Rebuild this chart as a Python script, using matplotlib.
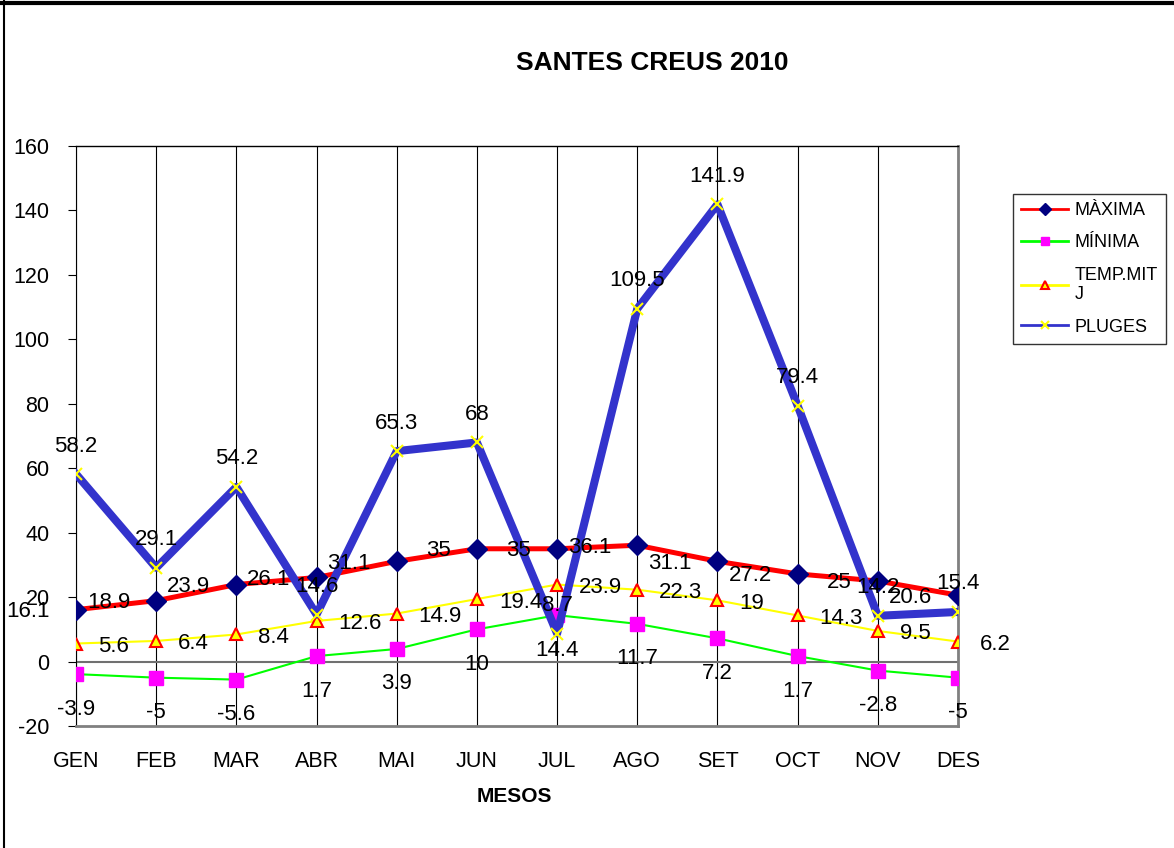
import numpy as np
import matplotlib
matplotlib.use("Agg")
import matplotlib.pyplot as plt
from matplotlib.lines import Line2D

plt.rcParams['font.family'] = ['Liberation Sans', 'DejaVu Sans']
plt.rcParams['axes.unicode_minus'] = False

mesos = ["GEN", "FEB", "MAR", "ABR", "MAI", "JUN", "JUL", "AGO", "SET", "OCT", "NOV", "DES"]
maxima = [16.1, 18.9, 23.9, 26.1, 31.1, 35, 35, 36.1, 31.1, 27.2, 25, 20.6]
minima = [-3.9, -5, -5.6, 1.7, 3.9, 10, 14.4, 11.7, 7.2, 1.7, -2.8, -5]
temp_mitj = [5.6, 6.4, 8.4, 12.6, 14.9, 19.4, 23.9, 22.3, 19, 14.3, 9.5, 6.2]
pluges = [58.2, 29.1, 54.2, 14.6, 65.3, 68, 8.7, 109.5, 141.9, 79.4, 14.2, 15.4]

x = np.arange(len(mesos))

fig = plt.figure(figsize=(11.74, 8.48), dpi=100)
ax = fig.add_axes([76/1174, 1-726/848, (958-76)/1174, (726-146)/848])

# series, drawn in the Excel order
ax.plot(x, maxima, color="#FF0000", lw=3.6, marker="D", ms=10,
        mfc="#000080", mec="#000080", label="MÀXIMA", zorder=3)
ax.plot(x, minima, color="#00FF00", lw=1.5, marker="s", ms=9.5,
        mfc="#FF00FF", mec="#FF00FF", label="MÍNIMA", zorder=3)
ax.plot(x, temp_mitj, color="#FFFF00", lw=1.5, marker="^", ms=9,
        mfc="#FFFF00", mec="#FF0000", mew=1.5, label="TEMP.MIT\nJ", zorder=3)
ax.plot(x, pluges, color="#3333CC", lw=5.8, marker="x", ms=9,
        mec="#FFFF00", mew=1.5, label="PLUGES", zorder=4)

# data labels
fs = 16
for xi, v in zip(x, maxima):
    ax.annotate(f"{v:g}", (xi, v), xytext=(-26, -2), textcoords="offset pixels",
                ha="right", va="center", fontsize=fs, zorder=6)
for xi, v in zip(x, minima):
    ax.annotate(f"{v:g}", (xi, v), xytext=(0, -35), textcoords="offset pixels",
                ha="center", va="center", fontsize=fs, zorder=6)
for xi, v in zip(x, temp_mitj):
    ax.annotate(f"{v:g}", (xi, v), xytext=(22, -3), textcoords="offset pixels",
                ha="left", va="center", fontsize=fs, zorder=6)
for xi, v in zip(x, pluges):
    ax.annotate(f"{v:g}", (xi, v), xytext=(0, 28), textcoords="offset pixels",
                ha="center", va="center", fontsize=fs, zorder=6)

ax.set_xlim(0, 11)
ax.set_ylim(-20, 160)
ax.set_yticks(np.arange(-20, 161, 20))
ax.set_xticks(x)
ax.set_xticklabels(mesos)
ax.tick_params(axis="x", length=0, pad=18, labelsize=15.5)
ax.tick_params(axis="y", length=6, direction="out", pad=13, labelsize=15.5)

# vertical gridlines and zero line
for xi in x:
    ax.axvline(xi, color="black", lw=0.8, zorder=1)
ax.axhline(0, color="#707070", lw=1.5, zorder=1)

ax.spines["left"].set_color("black")
ax.spines["top"].set_color("black")
ax.spines["top"].set_linewidth(1)
ax.spines["right"].set_color("#808080")
ax.spines["right"].set_linewidth(2)
ax.spines["bottom"].set_color("#808080")
ax.spines["bottom"].set_linewidth(2)

fig.text(652/1174, 1-63/848, "SANTES CREUS 2010", ha="center", va="center",
         fontsize=19, fontweight="bold")
fig.text(514/1174, 1-797/848, "MESOS", ha="center", va="center",
         fontsize=15, fontweight="bold")

leg = ax.legend(loc="upper left", bbox_to_anchor=(1013/1174, 1-194/848),
                bbox_transform=fig.transFigure, fontsize=13, frameon=True,
                fancybox=False, edgecolor="black", handlelength=2.6,
                handletextpad=0.35, labelspacing=0.85, borderaxespad=0,
                borderpad=0.45, markerscale=0.65)
leg.get_frame().set_linewidth(1)
for h in leg.legend_handles:
    h.set_linewidth(2)

# outer chart border (top and left visible)
fig.add_artist(Line2D([0.0, 1.0], [0.997, 0.997], transform=fig.transFigure,
                      color="black", lw=3))
fig.add_artist(Line2D([0.003, 0.003], [0.0, 1.0], transform=fig.transFigure,
                      color="black", lw=1.5))

fig.savefig("out.png", dpi=100)
